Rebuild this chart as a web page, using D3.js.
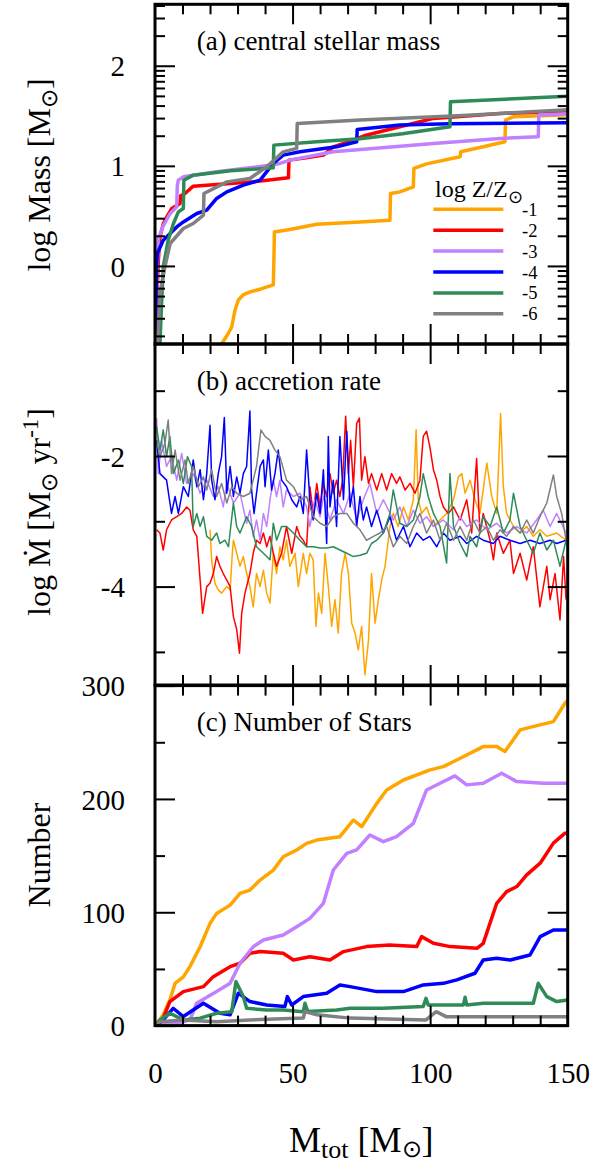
<!DOCTYPE html>
<html>
<head>
<meta charset="utf-8">
<script src="https://cdn.jsdelivr.net/npm/d3@7"></script>
<style>
body { margin: 0; background: #fff; }
svg { display: block; }
text { font-family: "Liberation Serif", "Times New Roman", serif; fill: #000; }
</style>
</head>
<body>
<svg id="chart" width="604" height="1163"></svg>
<script>
// metallicity runs, log Z/Zsun
const zLabels = ['-1', '-2', '-3', '-4', '-5', '-6']
const colors = ['#ffa500', '#ff0000', '#c080ff', '#0000ff', '#2e8b57', '#808080']

// (a) central stellar mass, [Mtot, log M]
const massZ1 = [[24.2,-0.78],[26.5,-0.68],[27.9,-0.61],[29.0,-0.45],[30.3,-0.34],[32.0,-0.29],[34.5,-0.26],[38.5,-0.23],[43.0,-0.19],[43.2,0.04],[43.4,0.34],[49.0,0.364],[58.8,0.417],[74.5,0.44],[85.4,0.457],[85.6,0.724],[89.0,0.74],[93.9,0.79],[94.1,0.974],[98.7,1.02],[110.9,1.09],[111.1,1.14],[119.3,1.19],[127.2,1.24],[127.4,1.457],[130.2,1.49],[150,1.51]]
const massZ2 = [[0.3,-0.78],[0.7,-0.3],[1.2,0.05],[1.8,0.29],[3.0,0.42],[4.5,0.5],[6.1,0.574],[9.1,0.624],[9.3,0.70],[10.9,0.724],[13.9,0.797],[18.8,0.807],[35.7,0.84],[48.5,0.88],[48.7,1.057],[55,1.08],[61.2,1.107],[64.8,1.19],[72.1,1.257],[76,1.30],[89.0,1.39],[101.2,1.474],[125.4,1.524],[150,1.545]]
const massZ3 = [[0.5,-0.78],[0.8,0.0],[1.2,0.27],[3,0.4],[5.5,0.524],[7.9,0.59],[8.1,0.80],[8.5,0.857],[10.3,0.89],[22.4,0.94],[41.8,1.007],[45.4,1.024],[49.1,1.057],[64.8,1.14],[101.2,1.224],[125.4,1.274],[139.3,1.29],[139.5,1.507],[150,1.52]]
const massZ4 = [[0.2,-0.78],[0.4,-0.3],[0.6,0.0],[0.85,0.124],[3,0.257],[7.9,0.39],[10.3,0.44],[15.2,0.524],[18.8,0.557],[22.4,0.674],[26.1,0.74],[32.1,0.807],[38.2,0.857],[43,1.024],[46.6,1.107],[52.7,1.14],[66,1.19],[73.3,1.24],[73.5,1.364],[89,1.407],[107,1.42],[150,1.43]]
const massZ5 = [[1.8,-0.78],[2.5,-0.3],[3,-0.01],[4.8,0.257],[6.7,0.424],[8.5,0.54],[10.3,0.574],[10.5,0.857],[13.9,0.907],[27.5,0.95],[43,0.98],[43.2,1.207],[58.8,1.24],[74.5,1.27],[90,1.32],[107.2,1.39],[107.4,1.64],[150,1.695]]
const massZ6 = [[0.9,-0.78],[1.8,-0.276],[3.6,-0.01],[5.5,0.224],[10.3,0.374],[13.9,0.424],[17.6,0.507],[17.8,0.724],[26.1,0.84],[34.5,0.874],[40.6,0.99],[46.6,1.14],[51.5,1.174],[51.7,1.424],[74.5,1.457],[110,1.50],[150,1.56]]

// (b) accretion rate, [Mtot, log Mdot]
const rateZ1 = [[20.0,-3.13],[20.6,-3.6],[21.8,-3.95],[23.0,-4.05],[24.2,-4.10],[26.1,-4.0],[27.3,-4.05],[28.1,-3.49],[28.5,-3.29],[29.7,-3.49],[30.9,-3.69],[32.1,-3.54],[33.3,-3.80],[34.5,-4.0],[35.7,-4.31],[36.9,-3.80],[38.2,-4.0],[39.4,-3.75],[40.6,-4.10],[41.8,-4.25],[43.0,-3.49],[44.2,-3.80],[45.4,-3.39],[46.6,-3.59],[47.8,-3.29],[49.0,-3.69],[50.9,-3.49],[52.1,-4.0],[53.9,-3.49],[55.1,-3.80],[56.3,-3.49],[57.5,-3.59],[58.5,-4.61],[59.4,-4.10],[60.6,-4.41],[61.8,-3.49],[63.0,-4.0],[64.2,-4.61],[65.4,-4.20],[66.6,-4.71],[67.8,-3.80],[69.1,-3.49],[70.3,-3.80],[71.5,-4.56],[72.7,-4.71],[73.9,-4.97],[75.1,-4.61],[76.3,-5.35],[77.6,-4.82],[78.7,-3.80],[80.0,-4.56],[81.2,-4.20],[82.4,-3.90],[83.6,-3.69],[84.5,-3.39],[85.4,-3.08],[86.6,-2.88],[88.4,-3.08],[90.3,-2.78],[92.1,-2.98],[93.9,-2.67],[94.9,-1.60],[95.7,-2.67],[96.9,-2.88],[98.7,-2.78],[101.2,-3.08],[103.6,-2.98],[106.0,-2.88],[108.5,-2.67],[110.3,-2.32],[111.5,-2.27],[112.7,-2.57],[114.5,-2.37],[116.3,-2.67],[118.1,-2.88],[120.6,-2.11],[122.4,-2.62],[124.2,-2.88],[125.6,-1.35],[126.6,-2.47],[127.8,-2.88],[130.3,-3.08],[132.7,-3.18],[135.1,-3.08],[137.5,-3.23],[139.9,-3.13],[142.4,-3.23],[146.0,-3.18],[149.4,-3.29]]
const rateZ2 = [[0.6,-3.13],[1.8,-3.18],[3.0,-3.44],[4.2,-3.13],[6.0,-2.98],[7.9,-2.93],[9.7,-2.88],[11.5,-2.78],[12.7,-2.83],[13.9,-3.13],[15.2,-3.23],[16.4,-3.90],[17.3,-4.41],[18.8,-4.00],[20.0,-3.95],[21.2,-3.80],[22.4,-3.54],[23.6,-3.69],[24.8,-3.80],[26.1,-3.90],[27.3,-4.00],[28.5,-4.46],[29.7,-4.66],[30.7,-5.02],[31.5,-4.41],[32.7,-4.10],[34.5,-3.80],[35.7,-3.49],[36.9,-3.29],[38.2,-3.34],[39.4,-3.18],[40.6,-3.39],[41.8,-3.23],[43.0,-3.49],[44.2,-3.69],[46.0,-3.49],[47.8,-3.08],[49.7,-3.49],[51.5,-3.08],[52.7,-3.23],[53.9,-3.29],[55.1,-3.39],[56.3,-2.47],[57.5,-2.88],[58.8,-2.42],[60.0,-2.78],[61.2,-2.42],[62.4,-2.62],[63.6,-2.27],[64.8,-2.57],[66.0,-2.37],[67.2,-2.62],[68.2,-2.37],[69.3,-1.39],[70.3,-2.27],[71.1,-1.76],[72.1,-2.47],[73.3,-1.50],[74.3,-1.42],[75.1,-2.37],[76.3,-2.01],[77.6,-2.42],[78.7,-2.27],[80.6,-2.52],[82.4,-2.27],[84.2,-2.52],[86.0,-2.27],[87.8,-2.42],[89.0,-2.32],[90.9,-2.52],[92.7,-2.42],[94.5,-2.57],[96.3,-2.37],[97.5,-1.70],[98.7,-1.62],[99.9,-1.86],[101.2,-2.21],[102.4,-2.37],[103.6,-2.62],[104.8,-2.78],[106.6,-2.88],[108.5,-2.78],[110.9,-2.98],[113.3,-2.67],[115.1,-3.18],[116.9,-2.04],[118.1,-3.18],[119.3,-2.88],[121.8,-3.29],[123.0,-3.59],[124.2,-3.18],[126.6,-3.49],[129.0,-3.29],[130.3,-3.80],[132.7,-3.49],[135.1,-3.90],[137.5,-3.39],[139.9,-4.31],[142.4,-3.69],[143.6,-4.20],[145.4,-3.80],[147.2,-4.51],[148.5,-3.54],[149.4,-4.20]]
const rateZ3 = [[0.6,-1.42],[1.2,-2.27],[2.4,-1.76],[4.2,-2.16],[6.0,-2.01],[7.9,-2.37],[9.7,-1.96],[11.5,-2.42],[13.9,-2.27],[16.4,-2.57],[18.8,-2.37],[21.2,-2.62],[23.0,-2.47],[24.8,-2.78],[26.1,-2.42],[28.5,-2.72],[30.9,-2.57],[33.3,-3.03],[34.5,-2.83],[35.7,-3.23],[36.9,-2.98],[38.2,-3.29],[39.4,-2.88],[40.6,-3.08],[41.8,-2.67],[43.0,-2.37],[44.2,-2.62],[45.4,-2.37],[46.6,-2.78],[47.8,-2.52],[50.3,-2.62],[52.7,-2.57],[55.1,-2.78],[56.3,-3.08],[58.1,-2.67],[60.0,-2.93],[61.2,-2.62],[63.6,-2.98],[66.0,-2.67],[68.5,-2.88],[70.9,-2.57],[73.3,-2.98],[75.7,-2.67],[78.1,-2.42],[80.6,-2.88],[83.0,-2.67],[86.6,-2.98],[89.0,-2.78],[91.5,-3.08],[93.9,-2.83],[96.3,-3.03],[98.7,-2.93],[101.2,-3.08],[104.8,-2.98],[108.5,-3.13],[110.9,-2.93],[113.3,-3.08],[116.9,-2.98],[120.6,-3.13],[124.2,-3.03],[127.8,-3.18],[131.5,-3.08],[135.1,-3.18],[138.7,-2.98],[141.1,-2.83],[143.6,-3.08],[146.0,-2.88],[149.4,-3.18]]
const rateZ4 = [[0.6,-1.76],[1.8,-2.27],[4.2,-2.37],[6.0,-2.88],[7.3,-2.62],[8.5,-2.88],[10.3,-2.47],[12.1,-2.62],[13.9,-2.06],[15.2,-2.47],[16.4,-2.21],[17.6,-2.67],[18.8,-2.27],[20.0,-1.53],[20.6,-2.37],[21.8,-2.67],[23.0,-2.27],[24.2,-2.01],[25.2,-1.41],[26.1,-2.57],[27.3,-2.16],[28.5,-2.62],[29.7,-2.32],[30.9,-2.57],[32.1,-2.27],[33.3,-2.16],[34.5,-1.31],[35.1,-2.52],[36.0,-2.88],[36.9,-2.57],[38.2,-2.16],[39.4,-2.06],[40.0,-2.47],[41.2,-1.91],[42.4,-2.52],[43.6,-2.27],[44.8,-1.91],[46.0,-2.37],[47.8,-2.47],[49.7,-2.67],[51.5,-2.78],[52.7,-2.62],[53.9,-2.88],[55.1,-1.91],[56.3,-2.67],[57.5,-2.98],[58.8,-2.57],[60.0,-2.88],[61.2,-2.21],[62.4,-3.34],[63.0,-1.70],[63.6,-2.78],[64.8,-2.37],[66.0,-3.08],[67.2,-1.70],[68.5,-2.67],[69.7,-1.62],[70.9,-2.78],[72.1,-2.47],[73.3,-3.08],[74.5,-2.62],[75.7,-2.98],[76.9,-2.78],[78.7,-3.08],[80.6,-2.83],[83.0,-3.18],[85.4,-2.93],[87.8,-3.29],[90.3,-3.08],[92.7,-3.39],[95.1,-3.18],[97.5,-3.29],[99.9,-3.23],[102.4,-3.39],[104.8,-3.18],[107.2,-3.29],[110.9,-3.23],[113.3,-3.34],[116.9,-3.23],[119.3,-3.29],[123.0,-3.34],[125.4,-3.23],[129.0,-3.29],[132.7,-3.34],[136.3,-3.29],[139.9,-3.34],[143.6,-3.29],[146.0,-3.34],[149.4,-3.29]]
const rateZ5 = [[0.6,-1.55],[1.8,-1.91],[3.0,-1.60],[4.2,-2.01],[5.4,-1.70],[6.7,-2.27],[8.5,-2.06],[10.3,-2.42],[11.8,-2.01],[13.3,-2.16],[13.9,-3.08],[15.2,-2.88],[16.4,-3.08],[17.6,-2.93],[18.8,-3.23],[20.6,-3.29],[22.4,-3.18],[23.6,-3.34],[25.4,-3.29],[26.7,-3.39],[28.5,-2.72],[29.7,-3.08],[30.9,-3.18],[33.3,-2.93],[35.1,-3.08],[36.9,-3.39],[39.4,-3.49],[41.8,-3.59],[43.0,-3.03],[44.2,-3.29],[46.0,-3.08],[47.8,-3.08],[50.3,-3.18],[52.7,-3.29],[55.1,-3.39],[57.5,-3.39],[60.0,-3.41],[62.4,-3.41],[64.8,-3.39],[67.2,-3.44],[69.7,-3.49],[72.1,-3.54],[74.5,-3.52],[76.9,-3.49],[78.7,-3.34],[80.6,-3.29],[83.0,-3.18],[85.4,-2.88],[86.6,-2.52],[89.0,-3.03],[91.5,-3.08],[93.9,-2.98],[96.3,-2.62],[97.5,-2.27],[99.3,-2.62],[101.2,-2.88],[103.6,-3.08],[106.0,-3.64],[107.2,-2.27],[108.5,-3.08],[110.9,-3.34],[113.3,-3.54],[114.5,-3.23],[116.9,-3.39],[119.3,-2.93],[121.8,-3.08],[124.2,-2.78],[126.6,-3.18],[129.0,-2.98],[130.3,-2.57],[132.7,-3.08],[135.1,-3.29],[137.5,-3.49],[139.9,-3.18],[142.4,-3.44],[144.8,-3.29],[147.2,-3.69],[149.4,-3.29]]
const rateZ6 = [[0.6,-1.76],[1.8,-2.01],[3.6,-1.81],[4.8,-1.45],[6.0,-2.27],[7.3,-1.91],[9.1,-2.37],[10.9,-2.06],[12.1,-2.42],[13.9,-2.16],[15.8,-2.47],[17.6,-2.32],[18.8,-2.52],[20.6,-2.21],[22.4,-2.62],[24.2,-2.42],[26.1,-2.72],[27.9,-2.47],[29.7,-2.57],[32.1,-2.62],[34.5,-2.57],[36.9,-2.16],[38.5,-1.60],[40.0,-1.70],[41.8,-1.76],[43.6,-1.91],[45.4,-2.01],[47.8,-2.37],[50.3,-2.47],[52.7,-2.67],[55.1,-2.62],[57.5,-2.93],[60.0,-3.03],[62.4,-3.08],[64.8,-2.93],[67.2,-2.88],[69.7,-2.88],[72.1,-3.03],[74.5,-3.13],[76.9,-3.29],[79.4,-3.23],[81.8,-3.18],[84.2,-3.08],[86.6,-3.39],[89.0,-3.23],[91.5,-3.34],[93.9,-3.08],[96.3,-2.88],[98.7,-3.18],[101.2,-2.98],[103.6,-3.29],[106.0,-3.03],[108.5,-3.29],[110.9,-3.08],[113.3,-3.29],[115.7,-2.98],[118.1,-3.18],[120.6,-3.08],[123.0,-3.29],[125.4,-3.13],[127.8,-3.23],[130.3,-3.08],[132.7,-3.18],[135.1,-2.98],[137.5,-3.18],[139.9,-2.93],[142.4,-2.72],[144.8,-2.29],[146.0,-2.62],[147.8,-2.88],[149.4,-3.29]]

// (c) number of stars, [Mtot, N]
const numZ1 = [[0,0],[1,3],[3,9.5],[5.4,22.6],[7.3,37.3],[10.3,43],[12.7,52],[16.4,69.6],[20,90.2],[22.4,99],[27.3,106.3],[30.9,116.7],[34.5,119.6],[38.2,128.4],[43,137.2],[46.6,149],[51.5,154.9],[55.1,160.8],[58.8,163.7],[67.2,166.7],[72.1,181.4],[75.1,175.5],[80.6,196.1],[84.2,207.9],[90.3,216.7],[100,225.6],[104.8,228.5],[109.7,234.4],[119.3,246.2],[124.2,246.2],[127.2,241.8],[132.7,260.9],[139.9,265.3],[144.8,268.2],[149,284.4],[150,287]]
const numZ2 = [[0,0],[1.5,2],[3,6.6],[5.4,21.2],[10.3,30],[17.6,34.4],[21.2,43.2],[27.3,52],[30.9,55],[34.5,63.8],[38.2,65.3],[46.6,63.8],[50.3,57.9],[56.3,60.8],[63.6,57.9],[68.5,65.3],[76.9,69.7],[85.2,71.2],[95.1,69.7],[96.9,78.5],[101.2,72.6],[107.3,69.7],[117,68.2],[119.3,72.6],[124.2,107.9],[127.8,118.2],[131.5,122.7],[135.1,133],[140,143.3],[144.8,161],[149,169.8],[150,170]]
const numZ3 = [[0,0],[5,2],[10,3],[12.7,5],[15.1,19.7],[22.4,30],[27.3,37.3],[30.9,55],[35.7,69.6],[39.4,75.5],[46.6,79.9],[51.5,87.3],[56.3,94.6],[61.2,107.9],[64.8,137.3],[69.7,152],[73.3,155],[78.1,168.2],[83,162.3],[87.8,166.7],[93.9,178.5],[98.7,207.9],[103.6,213.8],[109,220.3],[113.3,212.4],[119.3,213.8],[126,222.6],[131.5,215.3],[141.1,213.8],[150,213.8]]
const numZ4 = [[0,0],[3,5],[6.6,15.3],[10.3,8],[17.6,19.7],[23.6,10.9],[27.3,9.5],[30.3,28.6],[34.5,21.2],[40.6,18.2],[47.2,16.8],[48.1,25.6],[49.7,18.2],[53.9,25.6],[62.4,28.6],[67.2,35.9],[70.9,34.4],[80.6,30],[90.3,30],[97.5,35.9],[104.8,37.3],[109.7,40.3],[116.3,46.2],[119.3,57.9],[124.2,59.4],[129.1,57.9],[136.3,62.3],[140,78.5],[144.8,84.4],[150,84.4]]
const numZ5 = [[0,0],[1.8,5],[5.4,10.9],[10.3,5],[16.4,6.6],[22.4,10.9],[27.9,12.3],[29.4,38.8],[32.1,25.6],[33.3,15.3],[40.6,13.8],[46.6,13.8],[53.9,12.3],[54.5,19.7],[55.5,12.5],[66,13.8],[70.9,15.3],[83,15.3],[97.5,16.8],[98.5,24.1],[99.3,18.2],[112.1,18.2],[112.7,25],[113.3,18.2],[119.3,19.7],[137.5,19.7],[139.3,37.3],[142.4,25.6],[146,21.2],[150,22.6]]
const numZ6 = [[0,0],[1.8,3.5],[10.3,5],[22.4,3.5],[34.5,5],[53.9,6.6],[54.5,12.3],[58.8,9.5],[70.9,6.6],[98.5,5],[102.2,12.3],[105.8,7.9],[119.3,7.9],[150,7.9]]

const massSeries = [massZ1, massZ2, massZ3, massZ4, massZ5, massZ6]
const rateSeries = [rateZ1, rateZ2, rateZ3, rateZ4, rateZ5, rateZ6]
const numSeries = [numZ1, numZ2, numZ3, numZ4, numZ5, numZ6]

const xTicks = [0, 50, 100, 150]
const xMinor = [10, 20, 30, 40, 60, 70, 80, 90, 110, 120, 130, 140]
const massTicks = [0, 1, 2]
const rateTicks = [-2, -4]
const rateMinor = [-1, -3, -5]
const numTicks = [0, 100, 200, 300]
const numMinor = [50, 150, 250]

let svg = d3.select('#chart')
let left = 155, right = 567.7
let serif = '"Liberation Serif", "Times New Roman", serif'

let x = d3.scaleLinear().domain([0, 150]).range([left, right])
let yMass = d3.scaleLinear().domain([-0.78, 2.614]).range([344, 4.3])
let yRate = d3.scaleLinear().domain([-5.507, -0.285]).range([685, 344])
let yNum = d3.scaleLinear().domain([0, 300]).range([1025.6, 685.6])

// log minor ticks for panel a
let massMinor = []
for (let n = -1; n <= 2; n++) {
    for (let k = 2; k <= 9; k++) {
        let v = n + Math.log10(k)
        if (v > -0.78 && v < 2.614) massMinor.push(v)
    }
}

function panel(id, y, series, width, yMajor, yMinor, yLabels) {
    let [y0, y1] = y.range()
    let g = svg.append('g')

    g.append('clipPath').attr('id', 'clip' + id)
        .append('rect').attr('x', left).attr('y', y1).attr('width', right - left).attr('height', y0 - y1)

    let line = d3.line().x(d => x(d[0])).y(d => y(d[1]))
    g.append('g').attr('clip-path', 'url(#clip' + id + ')')
        .selectAll('path')
        .data(series)
        .enter()
        .append('path')
        .attr('d', line)
        .attr('fill', 'none')
        .attr('stroke', (d, i) => colors[i])
        .attr('stroke-width', width)
        .attr('stroke-linejoin', 'round')

    // inward ticks on all four sides
    function ticks(axis, tx, ty) {
        let a = g.append('g').attr('transform', 'translate(' + tx + ',' + ty + ')').call(axis)
        a.select('.domain').remove()
        a.selectAll('line').attr('stroke', '#000').attr('stroke-width', 2)
    }
    ticks(d3.axisRight(y).tickValues(yMajor).tickSize(20).tickFormat(''), left, 0)
    ticks(d3.axisRight(y).tickValues(yMinor).tickSize(10).tickFormat(''), left, 0)
    ticks(d3.axisLeft(y).tickValues(yMajor).tickSize(20).tickFormat(''), right, 0)
    ticks(d3.axisLeft(y).tickValues(yMinor).tickSize(10).tickFormat(''), right, 0)
    ticks(d3.axisBottom(x).tickValues([50, 100]).tickSize(20).tickFormat(''), 0, y1)
    ticks(d3.axisBottom(x).tickValues(xMinor).tickSize(10).tickFormat(''), 0, y1)
    ticks(d3.axisTop(x).tickValues([50, 100]).tickSize(20).tickFormat(''), 0, y0)
    ticks(d3.axisTop(x).tickValues(xMinor).tickSize(10).tickFormat(''), 0, y0)

    let lab = g.append('g').attr('transform', 'translate(' + left + ',0)')
        .call(d3.axisLeft(y).tickValues(yLabels).tickSize(0).tickPadding(30).tickFormat(d => String(d)))
    lab.select('.domain').remove()
    lab.selectAll('text').style('font-family', serif).style('font-size', '29px')
        .attr('dy', '0.35em')

    g.append('rect').attr('x', left).attr('y', y1).attr('width', right - left).attr('height', y0 - y1)
        .attr('fill', 'none').attr('stroke', '#000').attr('stroke-width', 3)
    return g
}

panel('a', yMass, massSeries, 3.5, massTicks, massMinor, massTicks)
panel('b', yRate, rateSeries, 1.5, rateTicks, rateMinor, rateTicks)
panel('c', yNum, numSeries, 3.5, numTicks, numMinor, numTicks)

// panel titles
let titles = [['(a) central stellar mass', 50], ['(b) accretion rate', 390], ['(c) Number of Stars', 730.7]]
svg.selectAll('.ptitle').data(titles).enter().append('text')
    .attr('class', 'ptitle')
    .attr('x', 196.7).attr('y', d => d[1])
    .attr('font-size', 27)
    .text(d => d[0])

// x tick labels
let xl = svg.append('g').attr('transform', 'translate(0,1025.6)')
    .call(d3.axisBottom(x).tickValues(xTicks).tickSize(0).tickPadding(37).tickFormat(d => String(d)))
xl.select('.domain').remove()
xl.selectAll('text').style('font-family', serif).style('font-size', '29px')

// x title
let xt = svg.append('text').attr('x', 361.3).attr('y', 1152).attr('text-anchor', 'middle').attr('font-size', 36)
xt.append('tspan').text('M')
xt.append('tspan').attr('dy', 6).attr('font-size', 26).text('tot')
xt.append('tspan').attr('dy', -6).text(' [M')
xt.append('tspan').attr('dy', 5).attr('font-size', 24).text('\u2299')
xt.append('tspan').attr('dy', -5).text(']')

// y titles
function yTitle(cx, cy) {
    return svg.append('text').attr('transform', 'translate(' + cx + ',' + cy + ') rotate(-90)')
        .attr('text-anchor', 'middle').attr('font-size', 32)
}
let ya = yTitle(50, 175)
ya.append('tspan').text('log Mass [M')
ya.append('tspan').attr('dy', 7).attr('font-size', 23).text('\u2299')
ya.append('tspan').attr('dy', -7).text(']')

let yb = yTitle(50, 512)
yb.append('tspan').text('log \u1E40 [M')
yb.append('tspan').attr('dy', 7).attr('font-size', 23).text('\u2299')
yb.append('tspan').attr('dy', -7).text(' yr')
yb.append('tspan').attr('dy', -12).attr('font-size', 23).text('-1')
yb.append('tspan').attr('dy', 12).text(']')

yTitle(50, 855).text('Number')

// legend
let legend = svg.append('g')
legend.append('text').attr('x', 435).attr('y', 197).attr('font-size', 24).text('log Z/Z')
    .append('tspan').attr('dy', 6).attr('font-size', 18).text('\u2299')
let rows = legend.selectAll('.row').data(zLabels).enter().append('g')
    .attr('transform', (d, i) => 'translate(0,' + (209.3 + i * 20.9) + ')')
rows.append('line').attr('x1', 433.3).attr('x2', 503.3)
    .attr('stroke', (d, i) => colors[i]).attr('stroke-width', 3.5)
rows.append('text').attr('x', 522).attr('y', 6.5).attr('font-size', 18.5).text(d => d)
</script>
</body>
</html>
